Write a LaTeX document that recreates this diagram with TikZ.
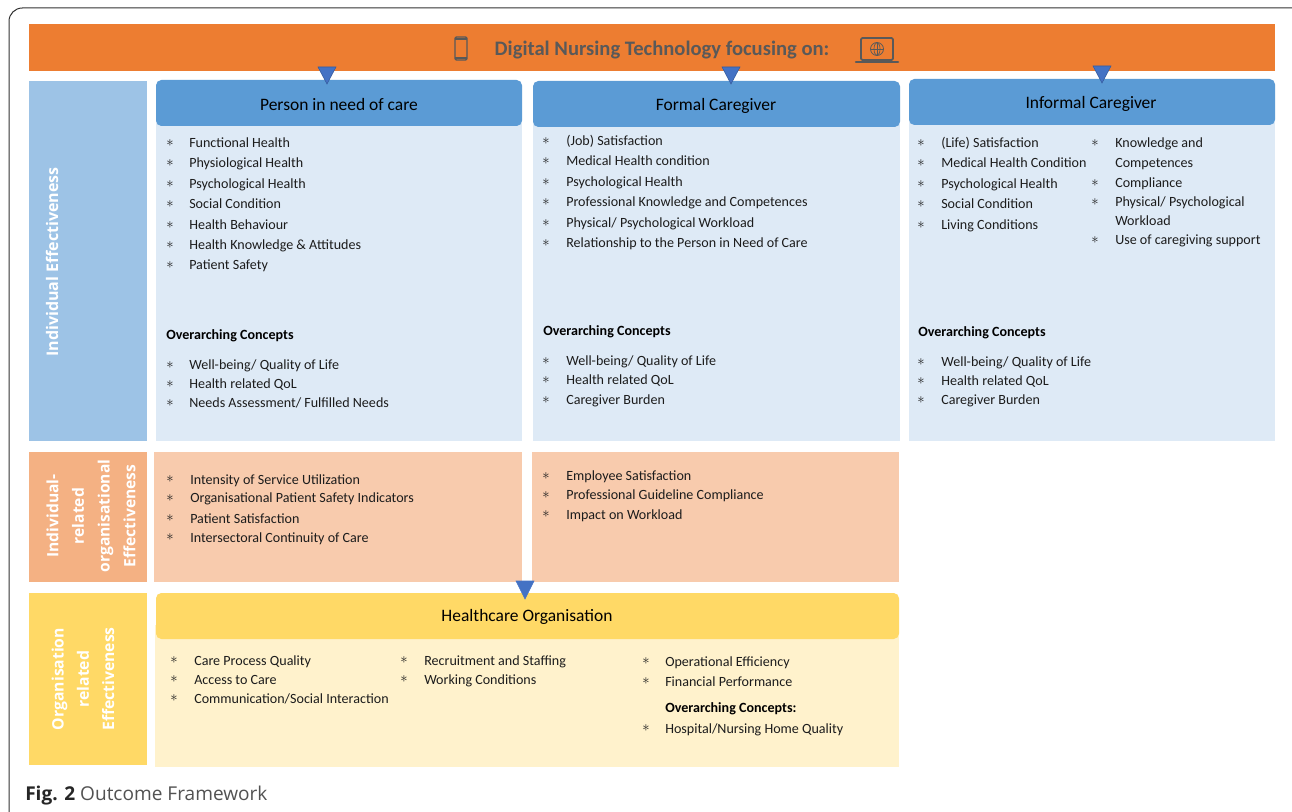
\documentclass[tikz,border=0pt]{standalone}
\usepackage{fontspec}
\setmainfont{Carlito}
\newfontfamily\sidefont{Open Sans}
\newfontfamily\capfont{Open Sans}
\definecolor{orangebar}{HTML}{ED7D31}
\definecolor{blueside}{HTML}{9DC3E6}
\definecolor{bluehead}{HTML}{5B9BD5}
\definecolor{bluebody}{HTML}{DEEAF6}
\definecolor{orangeside}{HTML}{F4B183}
\definecolor{orangebody}{HTML}{F8CBAD}
\definecolor{yellowside}{HTML}{FFD966}
\definecolor{yellowbody}{HTML}{FFF2CC}
\definecolor{tri}{HTML}{4472C4}
\definecolor{titlegrey}{HTML}{595959}
\definecolor{txt}{HTML}{1C1C1C}
\newcount\itmn
\newcommand{\itm}[4]{%
  \global\advance\itmn by 1
  \node[staritem] (s\the\itmn) at (#1,#3) {$\ast$};
  \node[listitem] (t\the\itmn) at (#2,#3+1) {#4};
}
\tikzset{
  listitem/.style={anchor=west,inner sep=0pt,text=txt,font=\fontsize{10.55pt}{12pt}\selectfont,text height=7.5pt,text depth=1.5pt},
  staritem/.style={inner sep=0pt,text=txt,font=\fontsize{10.5pt}{10pt}\selectfont},
  boldhead/.style={anchor=west,inner sep=0pt,text=black,font=\fontsize{10.55pt}{12pt}\selectfont\bfseries,text height=7.5pt,text depth=1.5pt},
  headtext/.style={inner sep=0pt,text=black,font=\fontsize{13.1pt}{15pt}\selectfont},
  sidetext/.style={inner sep=0pt,text=white,rotate=90,align=center,font=\sidefont\fontsize{11.7pt}{19.3pt}\selectfont\bfseries},
  downtri/.style={fill=tri,draw=tri!80!black,line width=0.4pt},
  devicon/.style={draw=titlegrey,line width=1.1pt,fill=none}
}
\begin{document}
\begin{tikzpicture}[x=0.75pt,y=-0.75pt]
\useasboundingbox (0,0) rectangle (1292,812);
\fill[white] (0,0) rectangle (1292,812);
% outer frame
\draw[black!80,line width=0.75pt,rounded corners=10pt] (9,830) -- (9,8) -- (1310,8);
% top bar
\fill[orangebar] (29,24) rectangle (1275,71);
\node[inner sep=0pt,text=titlegrey,font=\fontsize{15.45pt}{18pt}\selectfont\bfseries] (title) at (662,50) {Digital Nursing Technology focusing on:};
% phone icon
\draw[devicon,rounded corners=1pt] (455,37) rectangle (467,60);
\draw[titlegrey,line width=1.2pt] (455,39) -- (467,39) (455,58) -- (467,58);
% laptop icon
\draw[devicon,line width=1.3pt,rounded corners=1pt] (861,38) rectangle (893,60);
\draw[titlegrey,line width=1.9pt,line cap=round] (856,62) -- (898,62);
\draw[titlegrey,line width=0.6pt] (877,49) circle[radius=6.5];
\draw[titlegrey,line width=0.5pt] (870.5,49) -- (883.5,49) (877,42.5) -- (877,55.5);
\draw[titlegrey,line width=0.5pt] (877,49) ellipse[x radius=3,y radius=6.5];
% left side bands
\fill[blueside] (29,81) rectangle (147,441);
\fill[orangeside] (29,452) rectangle (147,582);
\fill[yellowside] (29,593) rectangle (147,765);
\node[sidetext,font=\sidefont\fontsize{12pt}{19.3pt}\selectfont\bfseries] (side1) at (52,262) {Individual Effectiveness};
\node[sidetext] (side2) at (91,516) {Individual-\\related\\organisational\\Effectiveness};
\node[sidetext,font=\sidefont\fontsize{11.8pt}{19pt}\selectfont\bfseries] (side3) at (83,679) {Organisation\\related\\Effectiveness};
% blue columns
\fill[bluebody] (156,110) rectangle (522,441);
\fill[bluebody] (533,110) rectangle (900,441);
\fill[bluebody] (909,110) rectangle (1275,441);
\fill[bluehead,rounded corners=4pt] (156,80) rectangle (522,126);
\fill[bluehead,rounded corners=4pt] (533,81) rectangle (900,127);
\fill[bluehead,rounded corners=4pt] (909,79) rectangle (1275,125);
\node[headtext] (h1) at (339,105) {Person in need of care};
\node[headtext] (h2) at (716,106) {Formal Caregiver};
\node[headtext] (h3) at (1091,104) {Informal Caregiver};
% triangles from the bar
\draw[downtri] (318,67) -- (336,67) -- (327,84) -- cycle;
\draw[downtri] (722,67) -- (740,67) -- (731,84) -- cycle;
\draw[downtri] (1093,66) -- (1111,66) -- (1102,83) -- cycle;
% column 1
\itm{170}{189}{143}{Functional Health}
\itm{170}{189}{163}{Physiological Health}
\itm{170}{189}{184}{Psychological Health}
\itm{170}{189}{204}{Social Condition}
\itm{170}{189}{225}{Health Behaviour}
\itm{170}{189}{245}{Health Knowledge \& Attitudes}
\itm{170}{189}{265}{Patient Safety}
\node[boldhead] (oc1) at (166,336) {Overarching Concepts};
\itm{170}{189}{365}{Well-being/ Quality of Life}
\itm{170}{189}{384}{Health related QoL}
\itm{170}{189}{403}{Needs Assessment/ Fulfilled Needs}
% column 2
\itm{546}{566}{141}{(Job) Satisfaction}
\itm{546}{566}{161}{Medical Health condition}
\itm{546}{566}{182}{Psychological Health}
\itm{546}{566}{202}{Professional Knowledge and Competences}
\itm{546}{566}{223}{Physical/ Psychological Workload}
\itm{546}{566}{243}{Relationship to the Person in Need of Care}
\node[boldhead] (oc2) at (543,332) {Overarching Concepts};
\itm{546}{566}{361}{Well-being/ Quality of Life}
\itm{546}{566}{380}{Health related QoL}
\itm{546}{566}{400}{Caregiver Burden}
% column 3
\itm{921}{941}{143}{(Life) Satisfaction}
\itm{921}{941}{163}{Medical Health Condition}
\itm{921}{941}{184}{Psychological Health}
\itm{921}{941}{204}{Social Condition}
\itm{921}{941}{225}{Living Conditions}
\itm{1095}{1115}{143}{Knowledge and}
\node[listitem] (c3a) at (1115,164) {Competences};
\itm{1095}{1115}{183}{Compliance}
\itm{1095}{1115}{202}{Physical/ Psychological}
\node[listitem] (c3b) at (1115,222) {Workload};
\itm{1095}{1115}{240}{Use of caregiving support}
\node[boldhead] (oc3) at (918,333) {Overarching Concepts};
\itm{921}{941}{362}{Well-being/ Quality of Life}
\itm{921}{941}{381}{Health related QoL}
\itm{921}{941}{400}{Caregiver Burden}
% orange row
\fill[orangebody] (154,452) rectangle (522,582);
\fill[orangebody] (532,452) rectangle (899,582);
\itm{170}{190}{479}{Intensity of Service Utilization}
\itm{170}{190}{498}{Organisational Patient Safety Indicators}
\itm{170}{190}{518}{Patient Satisfaction}
\itm{170}{190}{537}{Intersectoral Continuity of Care}
\itm{546}{566}{476}{Employee Satisfaction}
\itm{546}{566}{495}{Professional Guideline Compliance}
\itm{546}{566}{514}{Impact on Workload}
% yellow row
\fill[yellowbody] (155,625) rectangle (899,767);
\fill[yellowside,rounded corners=4pt] (156,593) rectangle (899,639);
\node[headtext] (h4) at (527,617) {Healthcare Organisation};
\draw[downtri,draw=tri] (516,581) -- (534,581) -- (525,599) -- cycle;
\itm{174}{194}{660}{Care Process Quality}
\itm{174}{194}{679}{Access to Care}
\itm{174}{194}{698}{Communication/Social Interaction}
\itm{404}{424}{660}{Recruitment and Staffing}
\itm{404}{424}{679}{Working Conditions}
\itm{646}{665}{661}{Operational Efficiency}
\itm{646}{665}{681}{Financial Performance}
\node[boldhead] (oc4) at (665,708) {Overarching Concepts:};
\itm{646}{665}{728}{Hospital/Nursing Home Quality}
% caption
\node[anchor=west,inner sep=0pt,text=black!68,font=\capfont\fontsize{14.3pt}{17pt}\selectfont] (cap) at (25,796) {\textcolor{black!85}{\textbf{Fig. 2}} Outcome Framework};
\end{tikzpicture}
\end{document}
